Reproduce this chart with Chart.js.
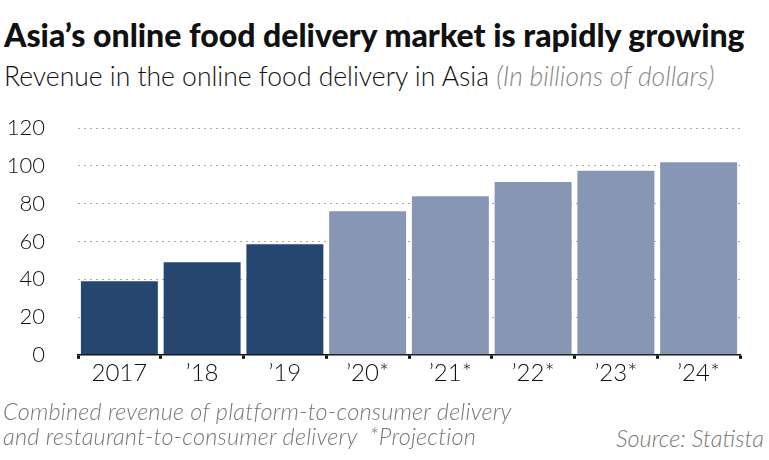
<!DOCTYPE html>
<html><head><meta charset="utf-8">
<script src="https://cdn.jsdelivr.net/npm/chart.js@4"></script>
<style>
body{margin:0;width:769px;height:460px;background:#fff;font-family:Lato,sans-serif;position:relative;overflow:hidden}
#t{position:absolute;left:4px;top:15px;font-size:32px;font-weight:900;color:#111;white-space:nowrap}
#s{position:absolute;left:4px;top:60px;font-size:26.5px;font-weight:300;color:#111;white-space:nowrap}
#s i{color:#888}
#f{position:absolute;left:3px;top:399px;font-size:23.5px;letter-spacing:0.2px;font-style:italic;font-weight:300;color:#777;line-height:25px;white-space:nowrap}
#src{position:absolute;right:5px;top:424px;font-size:23.5px;font-style:italic;font-weight:300;color:#777}
#w{position:absolute;left:0;top:82px;width:769px;height:319px}
</style></head><body>
<div id="t">Asia’s online food delivery market is rapidly growing</div>
<div id="s">Revenue in the online food delivery in Asia <i>(In billions of dollars)</i></div>
<div id="w"><canvas id="c"></canvas></div>
<div id="f">Combined revenue of platform-to-consumer delivery<br>and restaurant-to-consumer delivery &nbsp;*Projection</div>
<div id="src">Source: Statista</div>
<script>
const categories=["2017","’18","’19","’20*","’21*","’22*","’23*","’24*"];
const revenue=[39,49,58.5,76,84,91.5,97.5,102];
const colors=["#25466f","#25466f","#25466f","#8796b5","#8796b5","#8796b5","#8796b5","#8796b5"];
new Chart(document.getElementById('c'),{
type:'bar',
data:{labels:categories,datasets:[{data:revenue,backgroundColor:colors,categoryPercentage:1,barPercentage:0.93}]},
options:{responsive:true,maintainAspectRatio:false,animation:false,
layout:{padding:{top:12,right:29,left:0,bottom:0}},
plugins:{legend:{display:false},tooltip:{enabled:false}},
scales:{
y:{min:0,max:120,ticks:{stepSize:20,color:'#111',font:{family:'Lato',size:22,weight:300},padding:33},
grid:{color:'#aaa',lineWidth:1,drawTicks:false},border:{display:false,dash:[2,4]},
afterFit:s=>{s.width=78}},
x:{ticks:{color:'#111',font:{family:'Lato',size:24,weight:300},padding:0},
grid:{drawOnChartArea:false,drawTicks:true,tickLength:4,tickWidth:3,color:'#111'},
border:{color:'#111',width:1.5}}
}}
});
</script>
</body></html>
